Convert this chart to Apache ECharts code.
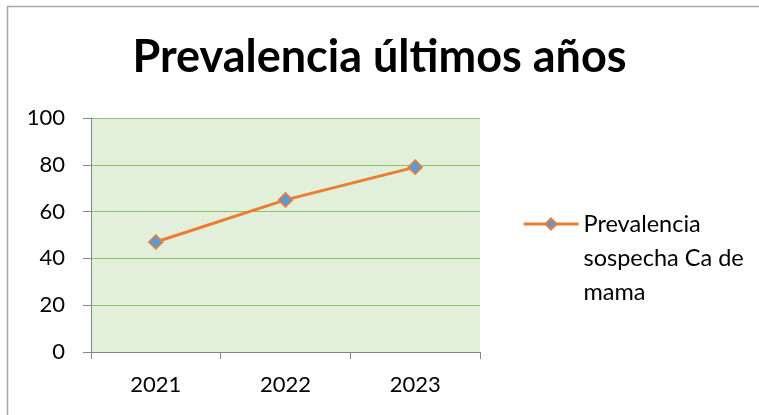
<!DOCTYPE html>
<html>
<head>
<meta charset="utf-8">
<script src="https://cdn.jsdelivr.net/npm/echarts@6/dist/echarts.min.js"></script>
<style>
  html, body { margin: 0; padding: 0; background: #fff; }
  #chart { width: 759px; height: 415px; }
</style>
</head>
<body>
<div id="chart"></div>
<script>
  // datos
  const years = ['2021', '2022', '2023']
  const prevalencia = [47, 65, 79]
  const seriesName = 'Prevalencia sospecha Ca de mama'
  const yTicks = { min: 0, max: 100, interval: 20 }

  const chart = echarts.init(document.getElementById('chart'))

  const option = {
    animation: false,
    textStyle: { fontFamily: 'Lato' },
    title: {
      text: 'Prevalencia últimos años',
      left: 'center',
      top: 30,
      textStyle: {
        fontFamily: 'Lato',
        fontSize: 45,
        fontWeight: 'bold',
        color: '#000'
      }
    },
    graphic: [
      {
        type: 'rect',
        shape: { x: 7.5, y: 6.5, width: 800, height: 500 },
        style: { fill: 'none', stroke: '#a6a6a6', lineWidth: 1.5 },
        silent: true
      }
    ],
    legend: {
      left: 517,
      top: 134,
      itemWidth: 55,
      itemHeight: 14,
      data: [seriesName],
      lineStyle: { width: 3 },
      // líneas vacías delante para que el icono quede a la altura de la primera línea
      formatter: name => '\n\n' + name,
      textStyle: {
        fontFamily: 'Lato',
        fontSize: 23.5,
        color: '#000',
        lineHeight: 34,
        width: 180,
        overflow: 'break'
      }
    },
    grid: {
      left: 91,
      right: 279,
      top: 118,
      bottom: 63,
      show: true,
      backgroundColor: '#e2efda',
      borderWidth: 0
    },
    xAxis: {
      type: 'category',
      data: years,
      boundaryGap: true,
      axisLine: { lineStyle: { color: '#868686', width: 1 } },
      axisTick: { show: true, length: 7, lineStyle: { color: '#868686' } },
      axisLabel: { fontFamily: 'Lato', fontSize: 22, color: '#000', margin: 22 }
    },
    yAxis: {
      type: 'value',
      min: yTicks.min,
      max: yTicks.max,
      interval: yTicks.interval,
      axisLine: { show: true, lineStyle: { color: '#868686', width: 1 } },
      axisTick: { show: true, length: 8, lineStyle: { color: '#868686' } },
      axisLabel: { fontFamily: 'Lato', fontSize: 22, color: '#000', margin: 26 },
      splitLine: { lineStyle: { color: '#8cc26a', width: 1 } }
    },
    series: [
      {
        name: seriesName,
        type: 'line',
        data: prevalencia,
        symbol: 'diamond',
        symbolSize: 14,
        lineStyle: { color: '#ed7d31', width: 3 },
        itemStyle: { color: '#5b9bd5', borderColor: '#ed7d31', borderWidth: 1.5 }
      }
    ]
  }

  chart.setOption(option)
</script>
</body>
</html>
